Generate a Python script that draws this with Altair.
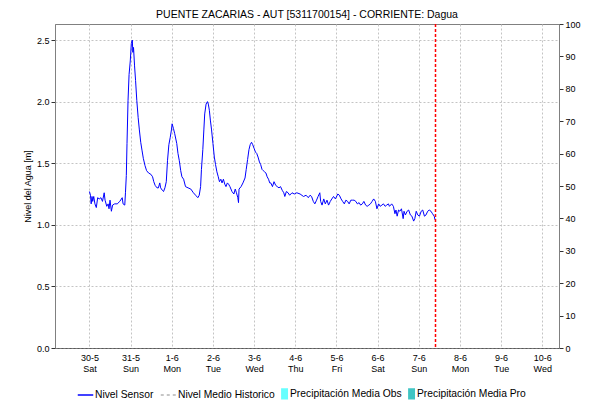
import altair as alt
import pandas as pd

TITLE = "PUENTE ZACARIAS - AUT   [5311700154] - CORRIENTE: Dagua"
FONT = "Liberation Sans"

# hours after 30-5-2020 00:00 (UTC) and sensor level in metres
hours = [
    0, 0.6, 1.0, 1.5, 1.9, 2.5, 3.2, 4.0, 4.8, 5.7, 6.7, 7.6, 8.6, 9.1, 10.1, 10.9, 11.4, 12.0,
    12.8, 13.5, 14.7, 16.2, 17.7, 19.1, 19.6, 20.6, 21.0, 21.5, 21.9, 22.5, 23.1, 23.8, 24.4,
    25.0, 25.3, 25.7, 26.3, 26.9, 27.6, 28.4, 29.1, 29.9, 30.7, 31.4, 32.4, 33.3, 34.5, 35.8,
    36.8, 37.5, 38.3, 39.4, 40.2, 41.0, 41.5, 42.5, 43.2, 44.0, 44.8, 45.5, 46.3, 47.1, 47.8,
    48.2, 49.0, 49.7, 50.9, 51.6, 52.4, 53.2, 53.9,
    54.9, 56.0, 57.5, 59.1, 60.6, 61.9, 63.2, 64.0, 64.8, 65.3, 66.1, 66.7, 67.2, 68.0, 68.8,
    69.3, 69.9, 70.5, 71.2, 72.0, 72.8, 73.5, 74.3, 75.1, 75.8, 76.6, 77.3, 78.1, 78.9, 79.6,
    80.4, 81.1, 81.9, 83.1, 84.2, 85.0, 85.7, 86.5, 86.9, 87.2, 88.4, 89.5, 90.7, 91.4, 92.2,
    93.0, 93.7, 94.5, 95.2, 96.0, 96.8, 97.5, 98.3, 99.1, 99.8, 100.6, 101.3, 102.1, 102.9,
    103.6, 104.4, 105.1,
    105.7, 106.7, 107.6, 108.6, 109.5, 110.5, 111.4, 112.4, 113.3, 113.9, 114.8, 115.8, 116.7,
    118.1, 119.4, 120.9, 122.8, 124.8, 126.3, 127.6, 128.6, 129.5, 130.5, 131.4, 132.4, 133.3,
    134.3, 134.8, 135.6, 136.6, 137.5, 138.5, 139.4, 140.4, 141.3, 142.3, 143.4, 144.8, 145.7,
    146.7, 147.6, 148.6, 149.5, 150.5, 151.4, 152.4, 153.3,
    154.3, 155.3, 156.2, 157.2, 158.1, 159.1, 160.0, 161.0, 161.9, 162.9, 163.8, 164.8, 165.7,
    166.7, 167.6, 168.6, 169.5, 170.5, 171.4, 172.4, 173.3, 174.3, 174.9, 175.6, 176.2, 177.2,
    178.1, 178.7, 179.4, 180.2, 181.0, 181.9, 182.9, 183.4, 184.2, 185.2, 186.1, 187.1, 188.0,
    189.0, 189.7, 190.5, 191.4, 192.4, 193.4, 194.3, 195.3, 196.2, 197.2, 198.1, 199.1, 200.0,
    201.0, 201.5,
]
nivel = [
    1.27, 1.24, 1.17, 1.23, 1.19, 1.23, 1.17, 1.14, 1.22, 1.21, 1.22, 1.19, 1.26, 1.20, 1.15, 1.17, 1.13, 1.20,
    1.11, 1.16, 1.17, 1.17, 1.19, 1.22, 1.17, 1.16, 1.26, 1.40, 1.66, 2.01, 2.22, 2.33, 2.47,
    2.50, 2.40, 2.44, 2.29, 2.17, 2.01, 1.87, 1.77, 1.67, 1.60, 1.54, 1.48, 1.44, 1.42, 1.41,
    1.39, 1.35, 1.32, 1.30, 1.30, 1.34, 1.30, 1.28, 1.27, 1.30, 1.35, 1.52, 1.65, 1.71, 1.77,
    1.82, 1.78, 1.74, 1.66, 1.58, 1.52, 1.44, 1.39,
    1.37, 1.31, 1.30, 1.29, 1.26, 1.24, 1.22, 1.24, 1.31, 1.45, 1.61, 1.77, 1.90, 1.98, 2.00,
    1.98, 1.93, 1.85, 1.77, 1.66, 1.55, 1.49, 1.43, 1.39, 1.35, 1.37, 1.34, 1.37, 1.33, 1.31,
    1.34, 1.33, 1.31, 1.27, 1.25, 1.29, 1.26, 1.22, 1.18, 1.29, 1.31, 1.34, 1.38, 1.45, 1.53,
    1.61, 1.65, 1.67, 1.65, 1.62, 1.59, 1.58, 1.55, 1.51, 1.49, 1.45, 1.44, 1.43, 1.42,
    1.39, 1.37, 1.34,
    1.34, 1.31, 1.35, 1.32, 1.31, 1.30, 1.31, 1.28, 1.26, 1.23, 1.27, 1.26, 1.24,
    1.26, 1.25, 1.26, 1.25, 1.23, 1.24, 1.22, 1.24, 1.23, 1.19, 1.17, 1.20, 1.23,
    1.26, 1.19, 1.16, 1.21, 1.17, 1.20, 1.16, 1.19, 1.21, 1.23, 1.21, 1.25, 1.24,
    1.21, 1.19, 1.17, 1.20, 1.19, 1.17, 1.20, 1.20,
    1.20, 1.19, 1.17, 1.18, 1.16, 1.17, 1.19, 1.16, 1.15, 1.16, 1.17, 1.19, 1.21,
    1.19, 1.13, 1.17, 1.15, 1.16, 1.17, 1.15, 1.16, 1.17, 1.15, 1.16, 1.17, 1.15,
    1.09, 1.12, 1.07, 1.12, 1.11, 1.13, 1.05, 1.11, 1.08, 1.11, 1.12, 1.08, 1.07,
    1.03, 1.05, 1.11, 1.08, 1.07, 1.11, 1.12, 1.07, 1.08, 1.11, 1.12, 1.11, 1.09,
    1.07, 1.04,
]

series = ["Nivel Sensor", "Nivel Medio Historico", "Precipitación Media Obs", "Precipitación Media Pro"]
series_colors = ["#0000ff", "#b4b4b4", "#66ffff", "#40c4c4"]

# precipitation (no rain visible in the picture)
precip_dates = ["2020-05-30", "2020-05-31", "2020-06-01", "2020-06-02", "2020-06-03",
                "2020-06-04", "2020-06-05", "2020-06-06", "2020-06-07"]
precip_obs = [0, 0, 0, 0, 0, 0, 0, 0, 0]

now_time = "2020-06-07T09:45:00Z"
x_start = (5, 29, 6, 50)
x_end = (6, 10, 6, 50)
tick_days = [(5, 30), (5, 31), (6, 1), (6, 2), (6, 3), (6, 4), (6, 5), (6, 6), (6, 7), (6, 8), (6, 9), (6, 10)]
y_ticks = [0.0, 0.5, 1.0, 1.5, 2.0, 2.5]
y_max = 2.63
p_ticks = [0, 10, 20, 30, 40, 50, 60, 70, 80, 90, 100]

base = pd.Timestamp("2020-05-30T00:00:00Z")
df = pd.DataFrame({
    "t": [(base + pd.Timedelta(hours=h)).strftime("%Y-%m-%dT%H:%M:%SZ") for h in hours],
    "nivel": nivel,
})
dfp = pd.DataFrame({
    "t": [d + "T00:00:00Z" for d in precip_dates],
    "mm": precip_obs,
    "serie": [series[2]] * len(precip_dates),
})
dfn = pd.DataFrame({"t": [now_time]})


def dt(m, d, h=0, mi=0):
    return alt.DateTime(year=2020, month=m, date=d, hours=h, minutes=mi, utc=True)


x_scale = alt.Scale(type="utc", domain=[dt(*x_start), dt(*x_end)])
x_axis = alt.Axis(
    values=[dt(m, d) for m, d in tick_days],
    labelExpr="[utcFormat(datum.value, '%-d-%-m'), utcFormat(datum.value, '%a')]",
    title=None, ticks=False, grid=True, gridDash=[2, 2], gridColor="#c4c4c4",
    labelFontSize=9, labelPadding=5, labelLineHeight=11, labelColor="#000",
    domainColor="#333", domainDash=[1, 1], labelAngle=0,
)

line = alt.Chart(df).mark_line(color="#0000ff", strokeWidth=1).encode(
    x=alt.X("t:T", scale=x_scale, axis=x_axis),
    y=alt.Y("nivel:Q", scale=alt.Scale(domain=[0, y_max], nice=False, zero=True),
            axis=alt.Axis(values=y_ticks, format=".1f", title="Nivel del Agua [m]",
                          grid=True, gridDash=[2, 2], gridColor="#c4c4c4",
                          tickSize=4, labelPadding=2, titlePadding=4,
                          labelFontSize=9, titleFontSize=9, titleFontWeight="normal",
                          domainColor="#808080", tickColor="#333", labelColor="#000",
                          titleColor="#000")),
)

is_line = "(datum.value == 'Nivel Sensor' || datum.value == 'Nivel Medio Historico')"
shape_expr = is_line + " ? 'stroke' : 'M-0.6,-0.62H0.1V0.62H-0.6Z'"
dash_expr = "datum.value == 'Nivel Medio Historico' ? [3, 3] : [1, 0]"
offset_expr = is_line + " ? 1 : -5"

precip = alt.Chart(dfp).mark_bar().encode(
    x=alt.X("t:T", scale=x_scale),
    y=alt.Y("mm:Q", scale=alt.Scale(domain=[0, 100], nice=False),
            axis=alt.Axis(values=p_ticks, format="d", title="Precipitación [mm]",
                          grid=False, tickSize=4, labelPadding=2, titlePadding=3,
                          labelFontSize=9, titleFontSize=9, titleFontWeight="normal",
                          domainColor="#808080", tickColor="#333", labelColor="#000",
                          titleColor="#000")),
    color=alt.Color("serie:N", scale=alt.Scale(domain=series, range=series_colors),
                    legend=alt.Legend(
                        title=None, orient="none", legendX=22, legendY=361,
                        direction="horizontal",
                        symbolType={"expr": shape_expr},
                        symbolStrokeColor={"expr": "scale('color', datum.value)"},
                        symbolDash={"expr": dash_expr},
                        symbolSize=240, symbolStrokeWidth=1.5, symbolOpacity=1,
                        labelFontSize=10.3, labelOffset={"expr": offset_expr},
                        columnPadding=3, labelColor="#000", labelLimit=300,
                    )),
)

now_rule = alt.Chart(dfn).mark_rule(color="#ff0000", strokeDash=[3, 2], strokeWidth=1.5).encode(
    x=alt.X("t:T", scale=x_scale),
)

chart = alt.layer(line, precip, now_rule).resolve_scale(y="independent").properties(
    width=504, height=324,
    title=alt.TitleParams(TITLE, fontSize=10.5, fontWeight="normal", offset=0, anchor="middle",
                          color="#000"),
    autosize=alt.AutoSizeParams(type="none"),
    padding={"left": 47, "top": 16, "right": 23, "bottom": 52},
).configure(font=FONT).configure_view(stroke="#808080")

chart.save("out.html", embed_options={"renderer": "svg", "actions": False})
